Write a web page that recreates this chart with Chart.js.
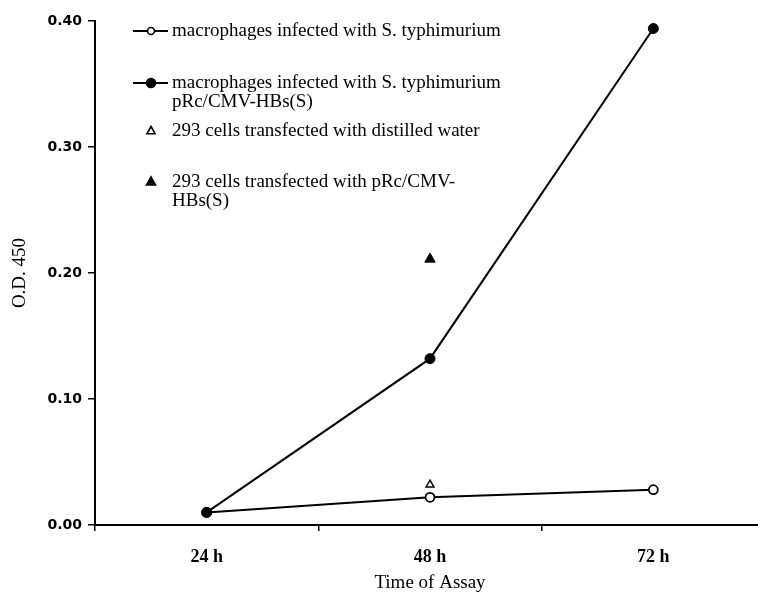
<!DOCTYPE html>
<html>
<head>
<meta charset="utf-8">
<script src="https://cdn.jsdelivr.net/npm/chart.js@4/dist/chart.umd.min.js"></script>
<style>
  html, body { margin: 0; padding: 0; background: #fff; overflow: hidden; }
  #wrap { position: relative; width: 772px; height: 600px; }
</style>
</head>
<body>
<div id="wrap"><canvas id="c"></canvas></div>
<script>
// ---- data ----
const categories = ['24 h', '48 h', '72 h'];
const macroSt = [0.010, 0.022, 0.028];            // open circles
const macroStHBs = [0.010, 0.132, 0.394];         // filled circles
const cellsWater = [null, 0.032, null];           // open triangle
const cellsHBs = [null, 0.211, null];             // filled triangle
const yTicks = [0.00, 0.10, 0.20, 0.30, 0.40];
const seriesLabels = [
  ['macrophages infected with S. typhimurium'],
  ['macrophages infected with S. typhimurium', 'pRc/CMV-HBs(S)'],
  ['293 cells transfected with distilled water'],
  ['293 cells transfected with pRc/CMV-', 'HBs(S)']
];
const xTitle = 'Time of Assay';
const yTitle = 'O.D. 450';

const serif = '"Liberation Serif", "Times New Roman", serif';
const sans = '"DejaVu Sans", Verdana, sans-serif';

// legend layout (rows y positions per entry)
const legendRows = [31, 83, 131, 182];

const legendPlugin = {
  id: 'inlineLegend',
  afterDraw(chart) {
    const ctx = chart.ctx;
    ctx.save();
    const lineH = 19;
    chart.data.datasets.forEach((ds, i) => {
      const y = legendRows[i];
      const mx = 151;
      if (ds.showLine !== false) {
        ctx.strokeStyle = '#000';
        ctx.lineWidth = 2.2;
        ctx.beginPath();
        ctx.moveTo(133, y);
        ctx.lineTo(168, y);
        ctx.stroke();
      }
      ctx.beginPath();
      if (ds.pointStyle === 'triangle') {
        const r = ds.legendSize;
        ctx.moveTo(mx, y - r);
        ctx.lineTo(mx + r * 0.9, y + r * 0.6);
        ctx.lineTo(mx - r * 0.9, y + r * 0.6);
        ctx.closePath();
      } else {
        ctx.arc(mx, y, ds.legendSize, 0, Math.PI * 2);
      }
      ctx.fillStyle = ds.pointBackgroundColor;
      ctx.fill();
      ctx.lineWidth = 1.6;
      ctx.strokeStyle = '#000';
      ctx.stroke();
      ctx.fillStyle = '#000';
      ctx.font = '19px ' + serif;
      ctx.textBaseline = 'middle';
      ctx.textAlign = 'left';
      seriesLabels[i].forEach((t, k) => ctx.fillText(t, 172, y + k * lineH));
    });
    ctx.restore();
  }
};

new Chart(document.getElementById('c'), {
  type: 'line',
  data: {
    labels: categories,
    datasets: [
      {
        label: seriesLabels[0].join(' '), data: macroSt,
        borderColor: '#000', borderWidth: 2, pointStyle: 'circle',
        pointRadius: 4.5, pointBorderWidth: 1.8, pointBackgroundColor: '#fff',
        pointBorderColor: '#000', legendSize: 3.5, order: 2
      },
      {
        label: seriesLabels[1].join(' '), data: macroStHBs,
        borderColor: '#000', borderWidth: 2, pointStyle: 'circle',
        pointRadius: 5, pointBorderWidth: 1, pointBackgroundColor: '#000',
        pointBorderColor: '#000', legendSize: 4.5, order: 1
      },
      {
        label: seriesLabels[2].join(' '), data: cellsWater, showLine: false,
        pointStyle: 'triangle', pointRadius: 4.5, pointBorderWidth: 1.5,
        pointBackgroundColor: '#fff', pointBorderColor: '#000', legendSize: 4.5, order: 3
      },
      {
        label: seriesLabels[3].join(' '), data: cellsHBs, showLine: false,
        pointStyle: 'triangle', pointRadius: 6, pointBorderWidth: 1,
        pointBackgroundColor: '#000', pointBorderColor: '#000', legendSize: 5, order: 4
      }
    ]
  },
  options: {
    responsive: true,
    maintainAspectRatio: false,
    animation: false,
    layout: { padding: { top: 21, right: 3, left: 0, bottom: 0 } },
    plugins: { legend: { display: false }, tooltip: { enabled: false } },
    scales: {
      x: {
        type: 'category',
        offset: true,
        grid: { offset: true, drawOnChartArea: false, drawTicks: true, tickLength: 6, color: '#000', lineWidth: 1.5 },
        border: { display: true, color: '#000', width: 2 },
        ticks: { color: '#000', font: { family: serif, size: 18, weight: 'bold' }, padding: 16, maxRotation: 0 },
        title: { display: true, text: xTitle, color: '#000', font: { family: serif, size: 19 }, padding: { top: 0, bottom: 6 } },
        afterFit(scale) { scale.height = 75; }
      },
      y: {
        min: 0, max: 0.4,
        afterBuildTicks(scale) { scale.ticks = yTicks.map(v => ({ value: v })); },
        grid: { drawOnChartArea: false, drawTicks: true, tickLength: 7, color: '#000', lineWidth: 1.5 },
        border: { display: true, color: '#000', width: 2 },
        ticks: {
          color: '#000', font: { family: sans, size: 14, weight: 'bold' }, padding: 6,
          callback: v => Number(v).toFixed(2)
        },
        title: { display: true, text: yTitle, color: '#000', font: { family: serif, size: 19 }, padding: { top: 9, bottom: 0 } },
        afterFit(scale) { scale.width = 95; }
      }
    }
  },
  plugins: [legendPlugin]
});
</script>
</body>
</html>
